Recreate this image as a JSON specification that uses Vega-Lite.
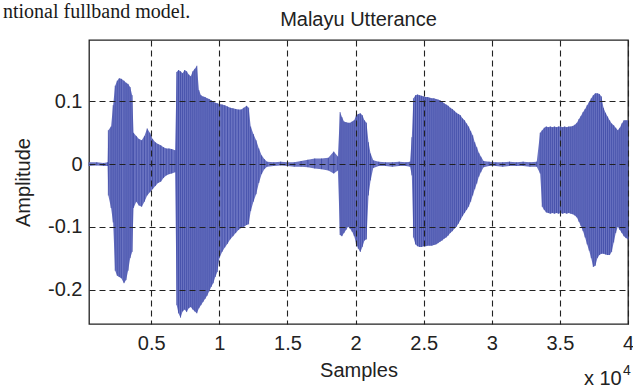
{
  "$schema": "https://vega.github.io/schema/vega-lite/v6.json",
  "width": 539,
  "height": 284,
  "autosize": "none",
  "padding": {"left": 89, "top": 40, "right": 5, "bottom": 65},
  "background": "white",
  "config": {"view": {"stroke": "#222", "strokeWidth": 1.3}, "font": "Liberation Sans"},
  "datasets": {
    "wave": [
      {"s": 430, "hi": 0.003, "lo": -0.003},
      {"s": 1000, "hi": 0.003, "lo": -0.002},
      {"s": 1500, "hi": 0.002, "lo": -0.003},
      {"s": 1800, "hi": 0.003, "lo": -0.003},
      {"s": 1850, "hi": 0.054, "lo": -0.05},
      {"s": 2050, "hi": 0.06, "lo": -0.07},
      {"s": 2200, "hi": 0.094, "lo": -0.093},
      {"s": 2350, "hi": 0.125, "lo": -0.17},
      {"s": 2500, "hi": 0.133, "lo": -0.178},
      {"s": 2650, "hi": 0.137, "lo": -0.18},
      {"s": 2800, "hi": 0.136, "lo": -0.182},
      {"s": 3000, "hi": 0.133, "lo": -0.19},
      {"s": 3150, "hi": 0.13, "lo": -0.185},
      {"s": 3300, "hi": 0.128, "lo": -0.17},
      {"s": 3450, "hi": 0.123, "lo": -0.15},
      {"s": 3600, "hi": 0.11, "lo": -0.14},
      {"s": 3700, "hi": 0.05, "lo": -0.07},
      {"s": 3900, "hi": 0.045, "lo": -0.06},
      {"s": 4100, "hi": 0.04, "lo": -0.066},
      {"s": 4300, "hi": 0.038, "lo": -0.068},
      {"s": 4500, "hi": 0.045, "lo": -0.06},
      {"s": 4700, "hi": 0.057, "lo": -0.05},
      {"s": 4900, "hi": 0.05, "lo": -0.045},
      {"s": 5100, "hi": 0.04, "lo": -0.04},
      {"s": 5300, "hi": 0.035, "lo": -0.035},
      {"s": 5500, "hi": 0.032, "lo": -0.03},
      {"s": 5700, "hi": 0.03, "lo": -0.028},
      {"s": 5900, "hi": 0.027, "lo": -0.022},
      {"s": 6100, "hi": 0.025, "lo": -0.018},
      {"s": 6300, "hi": 0.025, "lo": -0.016},
      {"s": 6500, "hi": 0.024, "lo": -0.015},
      {"s": 6750, "hi": 0.022, "lo": -0.013},
      {"s": 6870, "hi": 0.147, "lo": -0.225},
      {"s": 7000, "hi": 0.15, "lo": -0.238},
      {"s": 7150, "hi": 0.148, "lo": -0.245},
      {"s": 7300, "hi": 0.145, "lo": -0.235},
      {"s": 7450, "hi": 0.15, "lo": -0.232},
      {"s": 7600, "hi": 0.148, "lo": -0.236},
      {"s": 7750, "hi": 0.143, "lo": -0.23},
      {"s": 7900, "hi": 0.14, "lo": -0.228},
      {"s": 8050, "hi": 0.148, "lo": -0.232},
      {"s": 8200, "hi": 0.152, "lo": -0.235},
      {"s": 8350, "hi": 0.157, "lo": -0.238},
      {"s": 8500, "hi": 0.118, "lo": -0.23},
      {"s": 8650, "hi": 0.11, "lo": -0.225},
      {"s": 8800, "hi": 0.108, "lo": -0.22},
      {"s": 8950, "hi": 0.107, "lo": -0.215},
      {"s": 9100, "hi": 0.105, "lo": -0.21},
      {"s": 9250, "hi": 0.104, "lo": -0.203},
      {"s": 9400, "hi": 0.102, "lo": -0.196},
      {"s": 9550, "hi": 0.1, "lo": -0.19},
      {"s": 9700, "hi": 0.098, "lo": -0.18},
      {"s": 9850, "hi": 0.097, "lo": -0.172},
      {"s": 10000, "hi": 0.096, "lo": -0.15},
      {"s": 10200, "hi": 0.095, "lo": -0.14},
      {"s": 10400, "hi": 0.094, "lo": -0.133},
      {"s": 10600, "hi": 0.092, "lo": -0.127},
      {"s": 10800, "hi": 0.09, "lo": -0.12},
      {"s": 11000, "hi": 0.089, "lo": -0.115},
      {"s": 11200, "hi": 0.088, "lo": -0.11},
      {"s": 11400, "hi": 0.087, "lo": -0.105},
      {"s": 11600, "hi": 0.087, "lo": -0.102},
      {"s": 11800, "hi": 0.09, "lo": -0.1},
      {"s": 12000, "hi": 0.093, "lo": -0.097},
      {"s": 12150, "hi": 0.09, "lo": -0.096},
      {"s": 12300, "hi": 0.06, "lo": -0.075},
      {"s": 12500, "hi": 0.048, "lo": -0.06},
      {"s": 12700, "hi": 0.038, "lo": -0.048},
      {"s": 12900, "hi": 0.025, "lo": -0.03},
      {"s": 13100, "hi": 0.014, "lo": -0.016},
      {"s": 13300, "hi": 0.008, "lo": -0.008},
      {"s": 13500, "hi": 0.004, "lo": -0.004},
      {"s": 14000, "hi": 0.003, "lo": -0.003},
      {"s": 14500, "hi": 0.004, "lo": -0.002},
      {"s": 15000, "hi": 0.003, "lo": -0.003},
      {"s": 15500, "hi": 0.003, "lo": -0.004},
      {"s": 16000, "hi": 0.005, "lo": -0.004},
      {"s": 16500, "hi": 0.007, "lo": -0.005},
      {"s": 17000, "hi": 0.009, "lo": -0.007},
      {"s": 17500, "hi": 0.009, "lo": -0.008},
      {"s": 18000, "hi": 0.01, "lo": -0.01},
      {"s": 18400, "hi": 0.02, "lo": -0.015},
      {"s": 18700, "hi": 0.012, "lo": -0.01},
      {"s": 18860, "hi": 0.083, "lo": -0.113},
      {"s": 19000, "hi": 0.075, "lo": -0.115},
      {"s": 19150, "hi": 0.068, "lo": -0.11},
      {"s": 19300, "hi": 0.067, "lo": -0.105},
      {"s": 19450, "hi": 0.066, "lo": -0.1},
      {"s": 19600, "hi": 0.066, "lo": -0.103},
      {"s": 19750, "hi": 0.068, "lo": -0.108},
      {"s": 19900, "hi": 0.07, "lo": -0.115},
      {"s": 20050, "hi": 0.078, "lo": -0.127},
      {"s": 20200, "hi": 0.08, "lo": -0.135},
      {"s": 20350, "hi": 0.081, "lo": -0.14},
      {"s": 20500, "hi": 0.078, "lo": -0.132},
      {"s": 20650, "hi": 0.07, "lo": -0.122},
      {"s": 20800, "hi": 0.066, "lo": -0.12},
      {"s": 20950, "hi": 0.035, "lo": -0.05},
      {"s": 21100, "hi": 0.017, "lo": -0.026},
      {"s": 21300, "hi": 0.006, "lo": -0.006},
      {"s": 21700, "hi": 0.004, "lo": -0.003},
      {"s": 22200, "hi": 0.003, "lo": -0.003},
      {"s": 22700, "hi": 0.003, "lo": -0.004},
      {"s": 23200, "hi": 0.004, "lo": -0.003},
      {"s": 23700, "hi": 0.003, "lo": -0.003},
      {"s": 24000, "hi": 0.004, "lo": -0.004},
      {"s": 24130, "hi": 0.043, "lo": -0.018},
      {"s": 24250, "hi": 0.105, "lo": -0.117},
      {"s": 24400, "hi": 0.11, "lo": -0.128},
      {"s": 24550, "hi": 0.111, "lo": -0.131},
      {"s": 24700, "hi": 0.11, "lo": -0.132},
      {"s": 24850, "hi": 0.109, "lo": -0.132},
      {"s": 25000, "hi": 0.108, "lo": -0.131},
      {"s": 25150, "hi": 0.107, "lo": -0.131},
      {"s": 25300, "hi": 0.107, "lo": -0.13},
      {"s": 25450, "hi": 0.106, "lo": -0.13},
      {"s": 25600, "hi": 0.105, "lo": -0.13},
      {"s": 25750, "hi": 0.105, "lo": -0.129},
      {"s": 25900, "hi": 0.104, "lo": -0.128},
      {"s": 26050, "hi": 0.103, "lo": -0.126},
      {"s": 26200, "hi": 0.102, "lo": -0.124},
      {"s": 26350, "hi": 0.1, "lo": -0.122},
      {"s": 26500, "hi": 0.097, "lo": -0.119},
      {"s": 26650, "hi": 0.095, "lo": -0.117},
      {"s": 26800, "hi": 0.093, "lo": -0.114},
      {"s": 26950, "hi": 0.09, "lo": -0.11},
      {"s": 27100, "hi": 0.088, "lo": -0.107},
      {"s": 27250, "hi": 0.085, "lo": -0.103},
      {"s": 27400, "hi": 0.082, "lo": -0.1},
      {"s": 27550, "hi": 0.08, "lo": -0.095},
      {"s": 27700, "hi": 0.078, "lo": -0.089},
      {"s": 27850, "hi": 0.073, "lo": -0.083},
      {"s": 28000, "hi": 0.07, "lo": -0.078},
      {"s": 28150, "hi": 0.065, "lo": -0.073},
      {"s": 28300, "hi": 0.06, "lo": -0.068},
      {"s": 28450, "hi": 0.053, "lo": -0.06},
      {"s": 28600, "hi": 0.046, "lo": -0.05},
      {"s": 28750, "hi": 0.035, "lo": -0.04},
      {"s": 28900, "hi": 0.027, "lo": -0.031},
      {"s": 29050, "hi": 0.018, "lo": -0.02},
      {"s": 29200, "hi": 0.012, "lo": -0.013},
      {"s": 29400, "hi": 0.005, "lo": -0.005},
      {"s": 29800, "hi": 0.004, "lo": -0.003},
      {"s": 30300, "hi": 0.003, "lo": -0.003},
      {"s": 30800, "hi": 0.003, "lo": -0.004},
      {"s": 31300, "hi": 0.004, "lo": -0.003},
      {"s": 31800, "hi": 0.003, "lo": -0.003},
      {"s": 32300, "hi": 0.004, "lo": -0.003},
      {"s": 32800, "hi": 0.003, "lo": -0.004},
      {"s": 33300, "hi": 0.004, "lo": -0.004},
      {"s": 33550, "hi": 0.05, "lo": -0.015},
      {"s": 33700, "hi": 0.054, "lo": -0.068},
      {"s": 33850, "hi": 0.058, "lo": -0.073},
      {"s": 34000, "hi": 0.06, "lo": -0.077},
      {"s": 34150, "hi": 0.059, "lo": -0.078},
      {"s": 34300, "hi": 0.06, "lo": -0.079},
      {"s": 34450, "hi": 0.059, "lo": -0.078},
      {"s": 34600, "hi": 0.06, "lo": -0.079},
      {"s": 34750, "hi": 0.059, "lo": -0.078},
      {"s": 34900, "hi": 0.06, "lo": -0.079},
      {"s": 35050, "hi": 0.06, "lo": -0.078},
      {"s": 35200, "hi": 0.059, "lo": -0.079},
      {"s": 35350, "hi": 0.06, "lo": -0.078},
      {"s": 35500, "hi": 0.059, "lo": -0.079},
      {"s": 35650, "hi": 0.06, "lo": -0.078},
      {"s": 35800, "hi": 0.06, "lo": -0.079},
      {"s": 35950, "hi": 0.061, "lo": -0.08},
      {"s": 36100, "hi": 0.063, "lo": -0.082},
      {"s": 36250, "hi": 0.066, "lo": -0.085},
      {"s": 36400, "hi": 0.072, "lo": -0.092},
      {"s": 36550, "hi": 0.077, "lo": -0.099},
      {"s": 36700, "hi": 0.083, "lo": -0.107},
      {"s": 36850, "hi": 0.088, "lo": -0.117},
      {"s": 37000, "hi": 0.094, "lo": -0.128},
      {"s": 37150, "hi": 0.099, "lo": -0.138},
      {"s": 37300, "hi": 0.105, "lo": -0.15},
      {"s": 37450, "hi": 0.11, "lo": -0.164},
      {"s": 37600, "hi": 0.113, "lo": -0.162},
      {"s": 37750, "hi": 0.113, "lo": -0.15},
      {"s": 37900, "hi": 0.112, "lo": -0.145},
      {"s": 38050, "hi": 0.108, "lo": -0.143},
      {"s": 38200, "hi": 0.09, "lo": -0.143},
      {"s": 38350, "hi": 0.082, "lo": -0.144},
      {"s": 38500, "hi": 0.076, "lo": -0.145},
      {"s": 38650, "hi": 0.07, "lo": -0.145},
      {"s": 38800, "hi": 0.065, "lo": -0.14},
      {"s": 38950, "hi": 0.062, "lo": -0.125},
      {"s": 39100, "hi": 0.058, "lo": -0.11},
      {"s": 39250, "hi": 0.054, "lo": -0.1},
      {"s": 39400, "hi": 0.058, "lo": -0.105},
      {"s": 39550, "hi": 0.065, "lo": -0.11},
      {"s": 39700, "hi": 0.07, "lo": -0.115},
      {"s": 39850, "hi": 0.07, "lo": -0.118},
      {"s": 40000, "hi": 0.07, "lo": -0.12}
    ],
    "labels": [
      {"sx": -5883, "sy": 0.2331, "t": "ntional fullband model.", "kind": "page"},
      {"sx": 20215, "sy": 0.2203, "t": "Malayu Utterance", "kind": "title"},
      {"sx": 39537, "sy": -0.352, "t": "x 10", "kind": "exp"},
      {"sx": 39633, "sy": -0.336, "t": "4", "kind": "sup"}
    ]
  },
  "layer": [
    {
      "data": {"name": "wave"},
      "mark": {"type": "area", "color": "#6b74c2", "interpolate": "linear"},
      "encoding": {
        "x": {
          "field": "s", "type": "quantitative",
          "scale": {"domain": [430, 40000], "nice": false, "zero": false},
          "axis": {
            "title": "Samples", "values": [5000, 10000, 15000, 20000, 25000, 30000, 35000, 40000],
            "labelExpr": "'' + datum.value / 10000",
            "grid": true, "gridDash": [6, 4], "gridColor": "#222", "gridWidth": 1.1,
            "ticks": false, "domain": false,
            "labelFontSize": 20, "labelColor": "#222", "labelPadding": 9, "labelFlush": false, "labelOverlap": false,
            "titleFontSize": 20, "titleFontWeight": "normal", "titleColor": "#222", "titlePadding": 7,
            "zindex": 1
          }
        },
        "y": {
          "field": "hi", "type": "quantitative",
          "scale": {"domain": [-0.255, 0.198], "nice": false, "zero": false},
          "axis": {
            "title": "Amplitude", "values": [-0.2, -0.1, 0, 0.1],
            "labelExpr": "'' + datum.value",
            "grid": true, "gridDash": [6, 4], "gridColor": "#222", "gridWidth": 1.1,
            "ticks": false, "domain": false,
            "labelFontSize": 20, "labelColor": "#222", "labelPadding": 7, "labelOverlap": false,
            "titleFontSize": 20, "titleFontWeight": "normal", "titleColor": "#222", "titlePadding": 14,
            "zindex": 1
          }
        },
        "y2": {"field": "lo"}
      }
    },
    {
      "data": {"name": "wave"},
      "mark": {"type": "rule", "color": "#34409f", "strokeWidth": 1, "opacity": 0.65},
      "encoding": {
        "x": {"field": "s", "type": "quantitative"},
        "y": {"field": "hi", "type": "quantitative"},
        "y2": {"field": "lo"}
      }
    },
    {
      "data": {"name": "labels"},
      "transform": [{"filter": "datum.kind === 'page'"}],
      "mark": {"type": "text", "font": "Liberation Serif", "fontSize": 20, "align": "left", "baseline": "alphabetic", "color": "#1a1a1a"},
      "encoding": {
        "x": {"field": "sx", "type": "quantitative"},
        "y": {"field": "sy", "type": "quantitative"},
        "text": {"field": "t"}
      }
    },
    {
      "data": {"name": "labels"},
      "transform": [{"filter": "datum.kind === 'title'"}],
      "mark": {"type": "text", "font": "Liberation Sans", "fontSize": 20, "align": "center", "baseline": "alphabetic", "color": "#222"},
      "encoding": {
        "x": {"field": "sx", "type": "quantitative"},
        "y": {"field": "sy", "type": "quantitative"},
        "text": {"field": "t"}
      }
    },
    {
      "data": {"name": "labels"},
      "transform": [{"filter": "datum.kind === 'exp'"}],
      "mark": {"type": "text", "font": "Liberation Sans", "fontSize": 20, "align": "right", "baseline": "alphabetic", "color": "#222"},
      "encoding": {
        "x": {"field": "sx", "type": "quantitative"},
        "y": {"field": "sy", "type": "quantitative"},
        "text": {"field": "t"}
      }
    },
    {
      "data": {"name": "labels"},
      "transform": [{"filter": "datum.kind === 'sup'"}],
      "mark": {"type": "text", "font": "Liberation Sans", "fontSize": 14, "align": "left", "baseline": "alphabetic", "color": "#222"},
      "encoding": {
        "x": {"field": "sx", "type": "quantitative"},
        "y": {"field": "sy", "type": "quantitative"},
        "text": {"field": "t"}
      }
    }
  ]
}
